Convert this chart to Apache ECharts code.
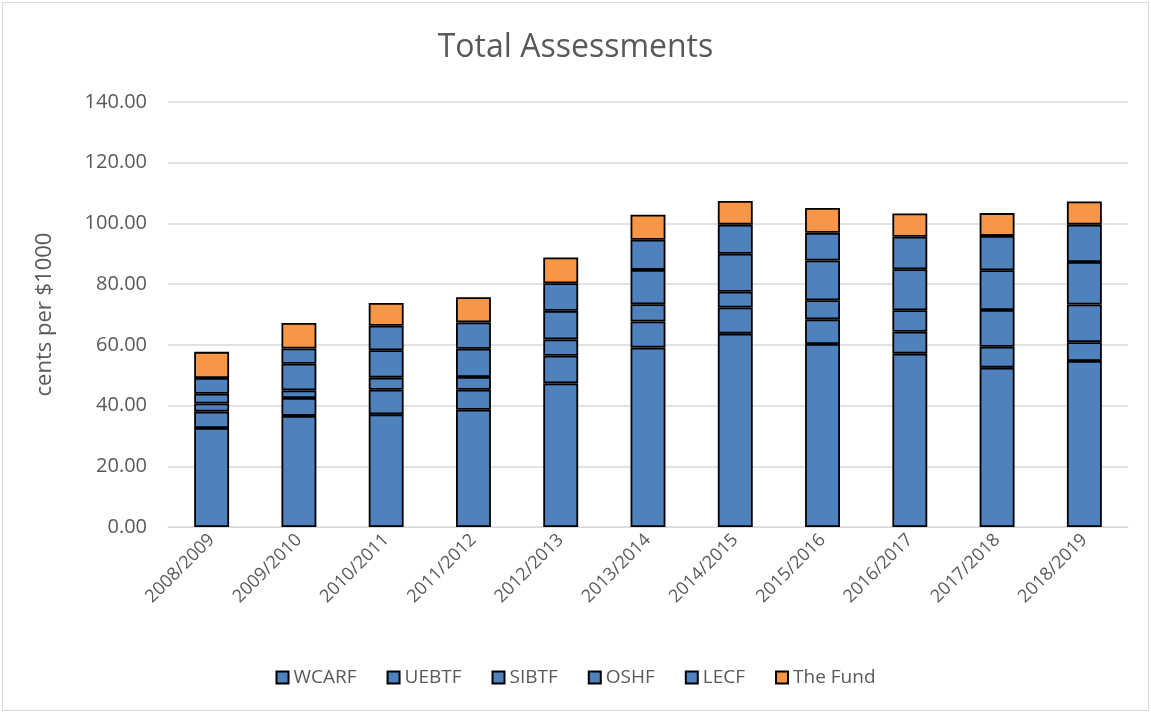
<!DOCTYPE html>
<html>
<head>
<meta charset="utf-8">
<script src="https://cdn.jsdelivr.net/npm/echarts@6/dist/echarts.min.js"></script>
<style>
  html, body { margin: 0; padding: 0; background: #fff; }
  #main { position: absolute; left: 2px; top: 2px; width: 1145px; height: 707px; border: 1px solid #d9d9d9; }
</style>
</head>
<body>
<div id="main"></div>
<script>
var years = ['2008/2009','2009/2010','2010/2011','2011/2012','2012/2013','2013/2014',
             '2014/2015','2015/2016','2016/2017','2017/2018','2018/2019'];
var wcarf = [32.6, 36.6, 37.1, 38.6, 47.3, 59.1, 63.7, 60.3, 57.1, 52.5, 54.7];
var uebtf = [5.4, 5.9, 8.1, 6.6, 9.1, 8.6, 8.6, 8.1, 7.2, 6.9, 6.2];
var sibtf = [2.7, 2.5, 4.0, 4.2, 5.4, 5.7, 5.2, 6.3, 7.1, 12.1, 12.4];
var oshf  = [3.2, 8.8, 9.0, 9.3, 9.4, 11.3, 12.5, 13.1, 13.5, 13.1, 14.0];
var lecf  = [5.2, 5.0, 8.1, 8.7, 9.1, 9.9, 9.6, 9.1, 10.7, 11.3, 12.3];
var fund  = [8.6, 8.4, 7.5, 8.3, 8.5, 8.3, 7.8, 8.2, 7.7, 7.5, 7.6];

var names = ['WCARF','UEBTF','SIBTF','OSHF','LECF','The Fund'];
var values = [wcarf, uebtf, sibtf, oshf, lecf, fund];
var blue = '#4f81bd', orange = '#f79646';

var font = '"Open Sans", "Noto Sans", sans-serif';
var txt = '#595959';

var myChart = echarts.init(document.getElementById('main'));
var option = {
    animation: false,
    title: {
        text: 'Total Assessments',
        left: 'center',
        top: 24,
        textStyle: { fontFamily: font, fontSize: 32, fontWeight: 'normal', color: txt }
    },
    legend: {
        bottom: 18,
        left: 'center',
        itemWidth: 12,
        itemHeight: 12,
        itemGap: 30,
        icon: 'rect',
        textStyle: { fontFamily: font, fontSize: 19, color: txt },
        data: names
    },
    grid: { left: 165, right: 20, top: 99, bottom: 183 },
    xAxis: {
        type: 'category',
        data: years,
        axisTick: { show: false },
        axisLine: { lineStyle: { color: '#d9d9d9', width: 1 } },
        axisLabel: { rotate: 45, fontFamily: font, fontSize: 18, color: txt, margin: 10 }
    },
    yAxis: {
        type: 'value',
        min: 0,
        max: 140,
        interval: 20,
        name: 'cents per $1000',
        nameLocation: 'middle',
        nameGap: 112,
        nameTextStyle: { fontFamily: font, fontSize: 22, color: txt },
        axisLabel: {
            fontFamily: font, fontSize: 20, color: txt, margin: 21,
            formatter: function (v) { return v.toFixed(2); }
        },
        splitLine: { lineStyle: { color: '#d9d9d9', width: 1.5 } }
    },
    series: names.map(function (n, i) {
        return {
            name: n,
            type: 'bar',
            stack: 'total',
            barWidth: '40%',
            data: values[i],
            itemStyle: {
                color: i === 5 ? orange : blue,
                borderColor: '#000',
                borderWidth: 1.8
            }
        };
    })
};
myChart.setOption(option);
</script>
</body>
</html>
